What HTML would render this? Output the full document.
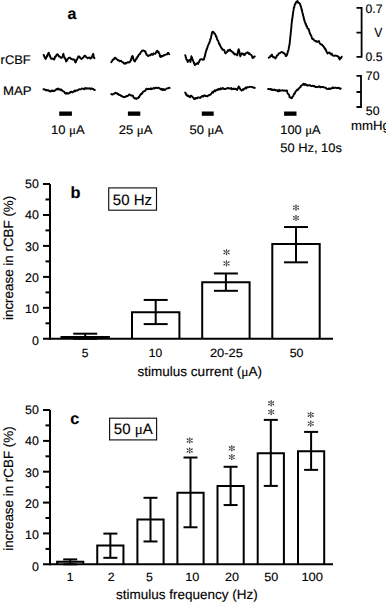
<!DOCTYPE html>
<html><head><meta charset="utf-8"><style>
html,body{margin:0;padding:0;background:#fff;width:386px;height:602px;overflow:hidden}
svg{display:block;font-family:"Liberation Sans", sans-serif;fill:#000}
text{stroke:#000;stroke-width:0.15px;text-rendering:geometricPrecision}
</style></head><body>
<svg width="386" height="602" viewBox="0 0 386 602">
<polyline points="43.60,54.90 43.90,55.24 44.20,56.43 44.50,57.10 44.87,57.50 45.23,58.46 45.60,58.90 45.97,58.49 46.33,57.05 46.70,57.10 46.98,55.72 47.25,56.31 47.52,54.79 47.80,54.50 48.10,53.50 48.40,54.04 48.70,52.70 48.93,53.31 49.15,54.50 49.38,54.61 49.60,55.30 49.88,56.13 50.15,56.03 50.43,57.38 50.70,57.80 51.25,58.90 51.80,58.90 52.90,58.50 53.45,59.08 54.00,59.60 54.35,59.24 54.70,58.41 55.05,56.77 55.40,56.70 55.77,56.54 56.15,55.74 56.52,54.75 56.90,54.50 57.60,54.20 58.30,55.30 58.80,56.31 59.30,56.19 59.80,56.70 60.50,57.58 61.20,57.80 61.75,57.82 62.30,56.70 62.57,56.30 62.85,55.88 63.12,54.37 63.40,53.80 63.57,54.98 63.75,55.17 63.92,56.63 64.10,56.70 64.47,58.00 64.83,57.56 65.20,58.90 65.47,58.98 65.75,59.73 66.03,61.47 66.30,61.40 66.67,60.70 67.03,60.39 67.40,59.60 67.87,58.70 68.33,58.41 68.80,57.80 70.00,57.60 70.45,58.08 70.90,58.90 71.65,59.03 72.40,59.60 73.10,59.53 73.80,59.20 74.35,60.08 74.90,60.70 75.25,62.21 75.60,62.50 75.83,61.94 76.07,61.48 76.30,60.00 76.67,59.93 77.03,59.54 77.40,58.20 77.90,57.82 78.40,56.43 78.90,56.30 79.45,57.24 80.00,57.10 80.55,58.50 81.10,58.50 81.80,58.96 82.50,58.20 83.00,57.67 83.50,57.25 84.00,56.30 84.70,55.72 85.40,56.00 85.95,57.05 86.50,57.10 87.05,57.76 87.60,58.20 88.30,57.68 89.00,57.80 89.55,57.50 90.10,58.50 90.65,58.48 91.20,57.40 91.75,57.58 92.30,56.30 92.53,55.06 92.75,55.50 92.97,54.29 93.20,53.80 93.33,54.00 93.45,54.94 93.58,56.38 93.70,56.70 94.10,58.01 94.50,58.20" fill="none" stroke="#000" stroke-width="1.9" stroke-linejoin="round" stroke-linecap="round"/>
<polyline points="43.50,89.30 44.13,89.24 44.77,89.37 45.40,90.30 46.20,90.24 47.00,89.98 47.80,90.60 48.43,90.15 49.07,90.85 49.70,91.20 50.37,91.56 51.03,91.12 51.70,90.40 52.33,91.06 52.97,90.52 53.60,91.20 54.23,90.99 54.87,90.33 55.50,90.40 56.06,89.53 56.62,89.05 57.18,88.83 57.74,89.52 58.30,88.50 58.93,89.26 59.57,89.49 60.20,89.30 60.78,90.13 61.35,89.59 61.92,90.14 62.50,90.80 63.30,91.39 64.10,91.60 64.57,92.42 65.05,93.08 65.53,93.60 66.00,93.50 66.67,92.88 67.33,93.66 68.00,93.50 68.65,93.51 69.30,93.01 69.95,92.27 70.60,92.46 71.25,91.63 71.90,92.00 72.55,92.39 73.20,92.01 73.85,91.27 74.50,90.63 75.15,91.28 75.80,90.40 76.45,90.33 77.10,90.61 77.75,90.37 78.40,89.68 79.05,89.35 79.70,89.30 80.46,89.37 81.22,89.04 81.98,88.55 82.74,88.69 83.50,88.90 84.15,89.30 84.80,88.08 85.45,88.02 86.10,88.82 86.75,88.24 87.40,88.50 88.18,88.55 88.96,88.46 89.74,88.26 90.52,89.25 91.30,88.50 92.00,88.34 92.70,88.97 93.40,88.95 94.10,89.90 94.80,90.00" fill="none" stroke="#000" stroke-width="1.9" stroke-linejoin="round" stroke-linecap="round"/>
<polyline points="111.30,62.20 111.62,61.76 111.95,61.31 112.27,60.77 112.60,59.70 113.10,59.94 113.60,59.21 114.10,59.06 114.60,58.00 115.45,57.74 116.30,58.90 117.00,59.25 117.70,60.37 118.40,60.10 119.07,60.59 119.73,61.23 120.40,60.90 121.10,60.75 121.80,61.72 122.50,62.20 123.03,62.22 123.55,63.07 124.07,63.51 124.60,63.80 125.40,62.87 126.20,63.40 126.90,62.58 127.60,62.27 128.30,62.20 129.00,62.52 129.70,62.00 130.40,61.30 130.66,60.13 130.93,60.42 131.19,58.77 131.45,58.83 131.71,57.43 131.97,56.58 132.24,57.22 132.50,56.00 132.77,56.36 133.03,57.17 133.30,58.40 133.60,59.85 133.90,60.41 134.20,60.26 134.50,61.30 134.93,61.46 135.37,60.29 135.80,59.70 136.12,59.39 136.44,58.10 136.76,58.62 137.08,57.67 137.40,56.80 137.80,56.90 138.20,56.19 138.60,55.00 139.20,54.35 139.80,54.30 140.23,53.44 140.65,52.50 141.07,51.82 141.50,51.70 142.10,50.61 142.70,50.54 143.30,50.40 144.15,51.00 145.00,51.30 145.30,51.14 145.60,52.73 145.90,52.81 146.20,53.35 146.50,54.69 146.80,54.80 147.45,55.42 148.10,56.10 148.70,55.52 149.30,55.47 149.90,55.20 150.63,55.21 151.37,53.94 152.10,54.30 152.83,54.88 153.57,53.32 154.30,53.90 154.90,53.84 155.50,53.55 156.10,52.60 156.53,51.28 156.97,51.83 157.40,50.80 157.82,51.27 158.25,52.27 158.68,52.09 159.10,53.50 159.38,53.52 159.66,54.42 159.94,56.28 160.22,55.84 160.50,57.00 161.15,56.73 161.80,55.70 162.45,56.22 163.10,56.11 163.75,55.09 164.40,55.20 165.13,54.68 165.87,54.64 166.60,54.30 167.20,54.28 167.80,52.85 168.40,53.00 168.85,54.02 169.30,54.30" fill="none" stroke="#000" stroke-width="1.9" stroke-linejoin="round" stroke-linecap="round"/>
<polyline points="111.30,94.10 112.00,94.47 112.70,94.43 113.40,93.85 114.10,93.80 114.77,93.27 115.45,92.70 116.12,93.52 116.80,93.10 117.34,93.44 117.88,94.25 118.42,94.05 118.96,95.03 119.50,95.00 120.27,94.96 121.03,96.05 121.80,95.90 122.53,96.68 123.27,96.64 124.00,97.20 124.70,97.03 125.40,97.02 126.10,96.06 126.80,96.30 127.47,95.93 128.15,95.86 128.82,94.60 129.50,94.50 130.18,95.18 130.85,95.23 131.52,95.69 132.20,95.40 132.65,95.73 133.10,95.94 133.55,97.58 134.00,97.70 134.57,98.48 135.15,98.27 135.73,98.07 136.30,99.00 137.03,98.11 137.77,98.34 138.50,97.70 138.90,96.72 139.30,97.04 139.70,95.70 140.14,95.32 140.59,94.22 141.03,94.39 141.47,93.43 141.91,93.78 142.36,93.23 142.80,92.10 143.32,91.69 143.83,91.45 144.35,91.10 144.87,90.82 145.38,90.65 145.90,89.50 146.62,88.69 147.34,89.09 148.06,89.35 148.78,88.81 149.50,89.00 150.22,89.03 150.94,88.18 151.66,89.27 152.38,88.64 153.10,88.50 153.84,87.83 154.58,88.54 155.32,87.92 156.06,87.64 156.80,88.00 157.58,88.10 158.35,87.71 159.12,87.94 159.90,88.50 160.52,89.35 161.14,89.40 161.76,88.67 162.38,90.12 163.00,90.00 163.62,89.08 164.24,89.35 164.86,90.01 165.48,89.38 166.10,89.00 166.82,88.51 167.54,88.42 168.26,88.23 168.98,87.64 169.70,88.00" fill="none" stroke="#000" stroke-width="1.9" stroke-linejoin="round" stroke-linecap="round"/>
<polyline points="185.20,55.20 185.40,55.68 185.60,56.16 185.80,57.65 186.00,57.52 186.20,58.90 186.52,59.57 186.84,59.94 187.16,60.10 187.48,61.39 187.80,62.00 188.30,60.61 188.80,60.50 189.30,59.90 189.67,59.95 190.03,60.69 190.40,62.00 190.53,61.17 190.65,61.07 190.78,59.30 190.90,58.73 191.03,58.63 191.15,58.40 191.28,57.13 191.40,56.30 191.63,56.80 191.86,58.33 192.09,57.59 192.31,59.47 192.54,59.27 192.77,59.71 193.00,60.90 193.29,60.93 193.57,61.81 193.86,63.17 194.14,62.82 194.43,64.02 194.71,64.71 195.00,65.10 195.53,64.38 196.07,64.10 196.60,63.50 197.35,63.09 198.10,64.00 198.40,62.68 198.70,62.24 199.00,62.30 199.30,61.26 199.60,60.44 199.90,60.19 200.20,59.40 200.90,59.33 201.60,59.10 202.30,59.40 203.10,59.84 203.90,59.40 204.07,59.04 204.25,57.71 204.42,57.55 204.59,56.82 204.76,56.69 204.94,55.82 205.11,54.50 205.28,54.88 205.45,52.94 205.63,52.73 205.80,52.20 206.00,51.97 206.20,50.44 206.40,50.32 206.60,49.03 206.80,49.35 207.00,48.88 207.20,47.97 207.40,47.80 207.60,46.34 207.80,46.00 208.06,45.68 208.31,44.92 208.57,44.29 208.82,43.49 209.08,43.45 209.33,43.00 209.59,41.68 209.84,41.36 210.10,40.50 210.28,39.19 210.45,39.49 210.63,38.76 210.81,38.62 210.98,37.71 211.16,36.25 211.34,35.75 211.52,35.52 211.69,33.90 211.87,33.90 212.05,32.81 212.22,32.08 212.40,32.00 213.20,31.74 214.00,32.80 214.38,33.78 214.75,33.39 215.12,34.15 215.50,35.10 215.77,35.54 216.03,36.86 216.30,36.27 216.57,37.42 216.83,38.17 217.10,39.28 217.37,39.78 217.63,40.45 217.90,40.50 218.16,40.78 218.41,41.60 218.67,42.12 218.92,43.52 219.18,44.24 219.43,43.64 219.69,44.29 219.94,44.99 220.20,46.00 220.58,46.25 220.97,47.28 221.35,48.08 221.73,48.24 222.12,48.51 222.50,49.90 223.30,49.78 224.10,49.90 224.40,50.40 224.70,51.40 225.00,52.68 225.30,52.99 225.60,53.40 226.10,52.82 226.60,52.38 227.10,51.86 227.60,51.00 228.20,49.96 228.80,50.85 229.40,50.29 230.00,49.50 230.50,50.64 231.00,51.10 231.50,51.06 232.00,51.80 232.52,52.17 233.04,52.25 233.56,53.56 234.08,53.22 234.60,54.40 235.25,54.00 235.90,54.46 236.55,54.64 237.20,55.40 237.37,54.47 237.53,53.35 237.70,52.58 237.87,52.12 238.03,51.36 238.20,51.06 238.37,49.87 238.53,50.45 238.70,49.20 238.85,50.03 238.99,49.98 239.14,50.79 239.28,51.59 239.43,52.27 239.57,52.56 239.72,54.31 239.86,55.18 240.01,55.04 240.15,55.72 240.30,56.40 240.60,55.16 240.90,54.56 241.20,54.30 241.50,53.57 241.80,53.30 242.33,54.19 242.85,53.59 243.38,53.78 243.90,54.90 244.52,55.16 245.14,54.10 245.76,53.11 246.38,53.28 247.00,52.80 247.65,52.22 248.30,53.09 248.95,53.89 249.60,53.30 250.13,54.38 250.67,54.66 251.20,54.90 251.50,55.16 251.80,55.94 252.10,56.26 252.40,57.79 252.70,58.00 253.22,57.65 253.75,57.62 254.28,56.54 254.80,56.40" fill="none" stroke="#000" stroke-width="1.9" stroke-linejoin="round" stroke-linecap="round"/>
<polyline points="185.20,92.60 185.57,92.84 185.95,94.59 186.32,93.99 186.70,95.20 187.35,95.91 188.00,95.38 188.65,96.02 189.30,96.80 190.00,97.18 190.70,95.63 191.40,95.70 191.83,96.43 192.27,96.67 192.70,97.18 193.13,97.76 193.57,97.82 194.00,98.80 194.78,99.17 195.55,97.93 196.32,98.03 197.10,98.30 197.82,97.38 198.54,97.55 199.26,97.56 199.98,98.10 200.70,97.30 201.32,96.80 201.94,96.08 202.56,95.98 203.18,96.76 203.80,95.70 204.54,95.14 205.28,96.08 206.02,95.82 206.76,96.34 207.50,96.20 208.10,95.54 208.70,95.65 209.30,94.95 209.90,94.76 210.50,94.72 211.10,93.70 211.62,93.39 212.13,92.30 212.65,91.75 213.17,92.64 213.68,91.52 214.20,91.10 214.82,90.32 215.44,91.13 216.06,90.26 216.68,90.16 217.30,89.50 217.99,89.93 218.67,88.89 219.36,88.86 220.04,89.50 220.73,88.24 221.41,89.04 222.10,88.50 222.80,87.90 223.50,88.79 224.20,88.80 224.90,89.17 225.60,89.02 226.30,88.50 226.98,88.51 227.67,88.05 228.35,87.98 229.03,88.54 229.72,88.51 230.40,88.50 231.10,87.94 231.80,89.27 232.50,88.76 233.20,89.14 233.90,88.50 234.60,89.00 235.25,88.87 235.90,88.77 236.55,89.51 237.20,90.00 237.50,88.93 237.80,88.45 238.10,87.66 238.40,87.62 238.70,86.40 239.02,87.61 239.34,87.15 239.66,88.10 239.98,88.38 240.30,89.50 241.00,89.91 241.70,90.55 242.40,90.00 243.03,89.18 243.65,89.65 244.28,88.58 244.90,88.50 245.52,87.55 246.14,88.46 246.76,87.60 247.38,87.13 248.00,87.40 248.80,87.18 249.60,86.75 250.40,86.89 251.20,86.90 251.92,87.04 252.64,87.22 253.36,87.69 254.08,87.46 254.80,88.00" fill="none" stroke="#000" stroke-width="1.9" stroke-linejoin="round" stroke-linecap="round"/>
<polyline points="268.70,57.80 269.35,57.39 270.00,57.10 270.43,56.33 270.85,55.41 271.27,55.92 271.70,54.80 272.03,54.63 272.37,55.94 272.70,56.50 273.40,57.40 274.10,57.10 274.75,57.17 275.40,58.50 275.73,58.01 276.07,57.54 276.40,56.80 276.87,55.54 277.33,55.49 277.80,55.10 278.23,54.74 278.67,53.69 279.10,53.10 279.80,53.29 280.50,52.80 281.35,51.94 282.20,52.10 282.85,52.36 283.50,53.40 284.20,53.17 284.90,54.10 285.33,54.78 285.77,56.07 286.20,56.10 286.53,55.57 286.87,55.18 287.20,54.10 287.40,53.25 287.60,53.13 287.80,51.49 288.00,51.10 288.20,51.00 288.40,50.41 288.60,49.40 288.73,48.61 288.85,47.43 288.98,47.03 289.10,46.26 289.23,45.70 289.35,45.81 289.48,44.22 289.60,44.00 289.67,43.88 289.75,43.17 289.82,41.23 289.89,41.02 289.96,40.49 290.04,39.09 290.11,38.99 290.18,39.01 290.25,37.12 290.33,37.15 290.40,36.30 290.48,35.03 290.56,35.02 290.63,34.79 290.71,33.05 290.79,32.06 290.87,31.48 290.94,31.46 291.02,29.98 291.10,30.00 291.16,28.67 291.22,28.58 291.28,28.50 291.34,27.04 291.40,26.30 291.46,25.95 291.52,24.42 291.58,24.44 291.64,23.12 291.70,22.90 291.79,22.39 291.88,22.24 291.97,20.21 292.06,20.29 292.15,19.70 292.25,18.34 292.34,17.84 292.43,18.26 292.52,17.59 292.61,15.60 292.70,15.50 292.80,15.14 292.90,14.84 293.00,13.10 293.10,12.99 293.20,11.46 293.30,11.28 293.40,11.07 293.50,10.28 293.60,9.88 293.70,8.80 293.88,7.50 294.07,7.20 294.25,7.30 294.43,6.19 294.62,5.31 294.80,4.70 295.12,3.88 295.45,4.08 295.78,2.79 296.10,2.00 297.10,1.30 297.57,1.04 298.03,2.68 298.50,2.70 299.15,2.94 299.80,3.70 300.05,4.35 300.30,4.77 300.55,5.87 300.80,6.70 301.00,7.11 301.20,7.43 301.40,8.91 301.60,8.79 301.80,10.48 302.00,10.02 302.20,11.40 302.36,12.50 302.52,13.21 302.69,13.42 302.85,14.41 303.01,14.40 303.18,15.81 303.34,16.01 303.50,16.80 303.68,17.07 303.85,18.85 304.02,18.68 304.20,19.31 304.38,20.71 304.55,20.65 304.72,21.78 304.90,22.20 305.17,22.32 305.43,23.95 305.70,23.69 305.97,23.99 306.23,26.00 306.50,25.90 306.93,26.08 307.35,27.92 307.77,28.65 308.20,28.60 308.44,29.40 308.69,29.16 308.93,29.87 309.18,30.74 309.42,31.66 309.67,32.63 309.91,33.81 310.16,33.54 310.40,34.40 310.69,34.52 310.97,35.81 311.26,35.83 311.54,36.41 311.83,37.77 312.11,38.64 312.40,39.00 313.05,38.75 313.70,39.73 314.35,40.51 315.00,40.60 315.65,41.25 316.30,40.92 316.95,41.93 317.60,41.60 318.70,41.10 319.10,41.22 319.50,42.66 319.90,43.37 320.30,44.15 320.70,44.20 321.22,44.62 321.73,44.47 322.25,44.82 322.77,45.98 323.28,45.88 323.80,46.80 324.15,47.59 324.50,47.38 324.85,49.02 325.20,48.78 325.55,49.07 325.90,50.40 326.22,50.53 326.54,51.58 326.86,52.35 327.18,52.71 327.50,53.50 328.17,52.68 328.83,52.81 329.50,52.50 330.06,53.63 330.62,53.47 331.18,54.54 331.74,53.63 332.30,54.80 333.10,55.77 333.90,55.85 334.70,55.50 335.47,55.70 336.23,55.80 337.00,55.90 337.75,56.36 338.50,56.70 338.80,57.99 339.10,57.40 339.40,58.94 339.70,59.40 340.10,58.92 340.50,58.02 340.90,58.12 341.30,57.57 341.70,56.70" fill="none" stroke="#000" stroke-width="1.9" stroke-linejoin="round" stroke-linecap="round"/>
<polyline points="268.10,89.00 268.80,89.19 269.50,89.06 270.20,89.37 270.90,88.89 271.60,89.89 272.30,89.50 272.98,90.15 273.67,90.06 274.35,89.49 275.03,90.20 275.72,90.07 276.40,90.50 277.08,90.12 277.77,91.18 278.45,91.24 279.13,89.82 279.82,91.04 280.50,90.50 281.20,90.65 281.90,90.32 282.60,90.18 283.30,90.76 284.00,90.44 284.70,90.50 285.40,90.78 286.10,90.74 286.80,90.50 287.05,90.57 287.30,92.14 287.55,93.07 287.80,93.67 288.05,93.75 288.30,94.20 288.62,94.14 288.94,94.70 289.26,95.51 289.58,97.34 289.90,97.30 290.65,97.50 291.40,98.30 291.80,97.57 292.20,97.85 292.60,96.45 293.00,96.20 293.35,95.67 293.70,94.90 294.05,93.75 294.40,93.93 294.75,93.72 295.10,92.60 295.54,91.57 295.99,91.16 296.43,90.93 296.87,89.85 297.31,90.02 297.76,89.99 298.20,89.00 298.80,88.64 299.40,87.85 300.00,87.20 300.48,87.25 300.97,85.71 301.45,85.85 301.93,85.08 302.42,84.94 302.90,84.30 303.58,83.82 304.27,84.91 304.95,83.99 305.63,84.20 306.32,85.26 307.00,84.90 307.67,85.74 308.34,85.14 309.01,85.29 309.69,85.20 310.36,85.42 311.03,86.10 311.70,86.10 312.36,85.70 313.01,85.70 313.67,86.29 314.33,85.94 314.99,86.75 315.64,87.10 316.30,86.70 316.97,87.19 317.64,86.81 318.31,86.69 318.99,86.89 319.66,86.31 320.33,87.45 321.00,87.20 321.68,87.01 322.37,87.06 323.05,86.77 323.73,87.39 324.42,87.66 325.10,87.60 325.83,87.79 326.55,88.85 327.27,88.91 328.00,89.00 328.70,88.43 329.40,88.68 330.10,89.08 330.80,88.31 331.50,88.10 332.16,88.21 332.81,87.36 333.47,87.96 334.13,87.87 334.79,87.74 335.44,87.72 336.10,87.80 336.77,88.01 337.44,88.03 338.11,88.04 338.79,87.64 339.46,88.14 340.13,89.02 340.80,88.40" fill="none" stroke="#000" stroke-width="1.9" stroke-linejoin="round" stroke-linecap="round"/>
<text x="72" y="19.2" font-size="16" text-anchor="middle" font-weight="bold" >a</text>
<text x="0" y="0" font-size="12.5" text-anchor="start" font-weight="normal" transform="translate(0.6,64) scale(1.03,1)">rCBF</text>
<text x="0" y="0" font-size="12.5" text-anchor="start" font-weight="normal" transform="translate(3,94.5) scale(1.055,1)">MAP</text>
<rect x="59.2" y="111.5" width="12.7" height="4.3" fill="#000"/>
<rect x="127.9" y="111.5" width="12.4" height="4.3" fill="#000"/>
<rect x="201.8" y="111.5" width="11.9" height="4.3" fill="#000"/>
<rect x="284.1" y="111.5" width="12.4" height="4.3" fill="#000"/>
<text x="0" y="0" font-size="12.5" text-anchor="start" font-weight="normal" transform="translate(51.0,134) scale(1.04,1)">10 <tspan font-family="Liberation Serif">μ</tspan>A</text>
<text x="0" y="0" font-size="12.5" text-anchor="start" font-weight="normal" transform="translate(118.7,134) scale(1.04,1)">25 <tspan font-family="Liberation Serif">μ</tspan>A</text>
<text x="0" y="0" font-size="12.5" text-anchor="start" font-weight="normal" transform="translate(189.4,134) scale(1.04,1)">50 <tspan font-family="Liberation Serif">μ</tspan>A</text>
<text x="0" y="0" font-size="12.5" text-anchor="start" font-weight="normal" transform="translate(280.3,134) scale(1.02,1)">100 <tspan font-family="Liberation Serif">μ</tspan>A</text>
<text x="0" y="0" font-size="12.5" text-anchor="start" font-weight="normal" transform="translate(280.3,152.4) scale(1.03,1)">50 Hz, 10s</text>
<path d="M356.5,7.9 H361.6 V56.8 H356.5 M356.5,32.7 H361.6" fill="none" stroke="#000" stroke-width="1.8"/>
<path d="M356.5,75.8 H361 V107 H356.5 M356.5,92 H361" fill="none" stroke="#000" stroke-width="1.8"/>
<text x="365.4" y="13.3" font-size="12.3" text-anchor="start" font-weight="normal" >0.7</text>
<text x="0" y="0" font-size="13.5" text-anchor="start" font-weight="normal" transform="translate(374.3,36.6) scale(0.9,1)">V</text>
<text x="365.4" y="60.6" font-size="12.3" text-anchor="start" font-weight="normal" >0.5</text>
<text x="365.8" y="80.1" font-size="12.3" text-anchor="start" font-weight="normal" >70</text>
<text x="365.8" y="114.8" font-size="12.3" text-anchor="start" font-weight="normal" >50</text>
<text x="351" y="130.2" font-size="13.2" text-anchor="start" font-weight="normal" >mmHg</text>
<text x="75.6" y="197.6" font-size="16.3" text-anchor="middle" font-weight="bold" >b</text>
<rect x="108.7" y="187.9" width="47.8" height="22.3" fill="none" stroke="#111" stroke-width="1.15"/>
<text x="132.4" y="204.7" font-size="15" text-anchor="middle" font-weight="normal" >50 Hz</text>
<line x1="50" y1="184.0" x2="50" y2="339.8" stroke="#000" stroke-width="2"/>
<line x1="43" y1="338.8" x2="333" y2="338.8" stroke="#000" stroke-width="2"/>
<line x1="45.5" y1="323.3" x2="50" y2="323.3" stroke="#000" stroke-width="2"/>
<line x1="43" y1="307.8" x2="50" y2="307.8" stroke="#000" stroke-width="2"/>
<line x1="45.5" y1="292.4" x2="50" y2="292.4" stroke="#000" stroke-width="2"/>
<line x1="43" y1="276.9" x2="50" y2="276.9" stroke="#000" stroke-width="2"/>
<line x1="45.5" y1="261.4" x2="50" y2="261.4" stroke="#000" stroke-width="2"/>
<line x1="43" y1="245.9" x2="50" y2="245.9" stroke="#000" stroke-width="2"/>
<line x1="45.5" y1="230.4" x2="50" y2="230.4" stroke="#000" stroke-width="2"/>
<line x1="43" y1="215.0" x2="50" y2="215.0" stroke="#000" stroke-width="2"/>
<line x1="45.5" y1="199.5" x2="50" y2="199.5" stroke="#000" stroke-width="2"/>
<line x1="43" y1="184.0" x2="50" y2="184.0" stroke="#000" stroke-width="2"/>
<text x="38.8" y="188.14999999999998" font-size="12.4" text-anchor="end" font-weight="normal" >50</text>
<text x="38.8" y="219.45" font-size="12.4" text-anchor="end" font-weight="normal" >40</text>
<text x="38.8" y="250.74999999999997" font-size="12.4" text-anchor="end" font-weight="normal" >30</text>
<text x="38.8" y="282.05" font-size="12.4" text-anchor="end" font-weight="normal" >20</text>
<text x="38.8" y="313.34999999999997" font-size="12.4" text-anchor="end" font-weight="normal" >10</text>
<text x="38.8" y="344.65" font-size="12.4" text-anchor="end" font-weight="normal" >0</text>
<path d="M61.5,338.8 V337.0972 H108.9 V338.8" fill="none" stroke="#000" stroke-width="2"/>
<path d="M132.0,338.8 V312.1744 H179.39999999999998 V338.8" fill="none" stroke="#000" stroke-width="2"/>
<path d="M202.20000000000002,338.8 V282.298 H249.6 V338.8" fill="none" stroke="#000" stroke-width="2"/>
<path d="M272.3,338.8 V244.06240000000003 H319.7 V338.8" fill="none" stroke="#000" stroke-width="2"/>
<line x1="85.2" y1="333.6916" x2="85.2" y2="338.8" stroke="#000" stroke-width="2"/><line x1="73.2" y1="333.6916" x2="97.2" y2="333.6916" stroke="#000" stroke-width="2"/><line x1="73.2" y1="338.8" x2="97.2" y2="338.8" stroke="#000" stroke-width="2"/>
<line x1="155.7" y1="299.9452" x2="155.7" y2="324.094" stroke="#000" stroke-width="2"/><line x1="143.7" y1="299.9452" x2="167.7" y2="299.9452" stroke="#000" stroke-width="2"/><line x1="143.7" y1="324.094" x2="167.7" y2="324.094" stroke="#000" stroke-width="2"/>
<line x1="225.9" y1="273.4744" x2="225.9" y2="290.812" stroke="#000" stroke-width="2"/><line x1="213.9" y1="273.4744" x2="237.9" y2="273.4744" stroke="#000" stroke-width="2"/><line x1="213.9" y1="290.812" x2="237.9" y2="290.812" stroke="#000" stroke-width="2"/>
<line x1="296" y1="227.0344" x2="296" y2="262.3288" stroke="#000" stroke-width="2"/><line x1="284" y1="227.0344" x2="308" y2="227.0344" stroke="#000" stroke-width="2"/><line x1="284" y1="262.3288" x2="308" y2="262.3288" stroke="#000" stroke-width="2"/>
<line x1="226.50" y1="249.50" x2="226.50" y2="254.90" stroke="#666" stroke-width="0.9" stroke-linecap="round"/><circle cx="226.50" cy="254.31" r="0.72" fill="#333"/><circle cx="226.50" cy="250.09" r="0.72" fill="#333"/><line x1="223.73" y1="250.60" x2="229.27" y2="253.80" stroke="#666" stroke-width="0.9" stroke-linecap="round"/><circle cx="228.66" cy="253.45" r="0.72" fill="#333"/><circle cx="224.34" cy="250.95" r="0.72" fill="#333"/><line x1="223.73" y1="253.80" x2="229.27" y2="250.60" stroke="#666" stroke-width="0.9" stroke-linecap="round"/><circle cx="228.66" cy="250.95" r="0.72" fill="#333"/><circle cx="224.34" cy="253.45" r="0.72" fill="#333"/>
<line x1="226.50" y1="260.70" x2="226.50" y2="266.10" stroke="#666" stroke-width="0.9" stroke-linecap="round"/><circle cx="226.50" cy="265.51" r="0.72" fill="#333"/><circle cx="226.50" cy="261.29" r="0.72" fill="#333"/><line x1="223.73" y1="261.80" x2="229.27" y2="265.00" stroke="#666" stroke-width="0.9" stroke-linecap="round"/><circle cx="228.66" cy="264.65" r="0.72" fill="#333"/><circle cx="224.34" cy="262.15" r="0.72" fill="#333"/><line x1="223.73" y1="265.00" x2="229.27" y2="261.80" stroke="#666" stroke-width="0.9" stroke-linecap="round"/><circle cx="228.66" cy="262.15" r="0.72" fill="#333"/><circle cx="224.34" cy="264.65" r="0.72" fill="#333"/>
<line x1="296.00" y1="204.90" x2="296.00" y2="210.30" stroke="#666" stroke-width="0.9" stroke-linecap="round"/><circle cx="296.00" cy="209.71" r="0.72" fill="#333"/><circle cx="296.00" cy="205.49" r="0.72" fill="#333"/><line x1="293.23" y1="206.00" x2="298.77" y2="209.20" stroke="#666" stroke-width="0.9" stroke-linecap="round"/><circle cx="298.16" cy="208.85" r="0.72" fill="#333"/><circle cx="293.84" cy="206.35" r="0.72" fill="#333"/><line x1="293.23" y1="209.20" x2="298.77" y2="206.00" stroke="#666" stroke-width="0.9" stroke-linecap="round"/><circle cx="298.16" cy="206.35" r="0.72" fill="#333"/><circle cx="293.84" cy="208.85" r="0.72" fill="#333"/>
<line x1="296.00" y1="215.30" x2="296.00" y2="220.70" stroke="#666" stroke-width="0.9" stroke-linecap="round"/><circle cx="296.00" cy="220.11" r="0.72" fill="#333"/><circle cx="296.00" cy="215.89" r="0.72" fill="#333"/><line x1="293.23" y1="216.40" x2="298.77" y2="219.60" stroke="#666" stroke-width="0.9" stroke-linecap="round"/><circle cx="298.16" cy="219.25" r="0.72" fill="#333"/><circle cx="293.84" cy="216.75" r="0.72" fill="#333"/><line x1="293.23" y1="219.60" x2="298.77" y2="216.40" stroke="#666" stroke-width="0.9" stroke-linecap="round"/><circle cx="298.16" cy="216.75" r="0.72" fill="#333"/><circle cx="293.84" cy="219.25" r="0.72" fill="#333"/>
<text x="0" y="0" font-size="12" text-anchor="middle" font-weight="normal" transform="translate(85.2,356.8) scale(1.0,1)">5</text>
<text x="0" y="0" font-size="12" text-anchor="middle" font-weight="normal" transform="translate(155.5,356.8) scale(1.0,1)">10</text>
<text x="0" y="0" font-size="12" text-anchor="middle" font-weight="normal" transform="translate(226.4,356.8) scale(1.075,1)">20-25</text>
<text x="0" y="0" font-size="12" text-anchor="middle" font-weight="normal" transform="translate(296.6,356.8) scale(1.03,1)">50</text>
<text x="199.75" y="376" font-size="13.5" text-anchor="middle" font-weight="normal" >stimulus current (<tspan font-family="Liberation Serif">μ</tspan>A)</text>
<text x="0" y="0" font-size="13.4" text-anchor="middle" font-weight="normal" transform="translate(13.3,257.9) rotate(-90)">increase in rCBF (%)</text>
<text x="74.8" y="424.2" font-size="16.3" text-anchor="middle" font-weight="bold" >c</text>
<rect x="109.6" y="418.2" width="47" height="21.7" fill="none" stroke="#111" stroke-width="1.15"/>
<text x="133.3" y="434.4" font-size="15" text-anchor="middle" font-weight="normal" >50 <tspan font-family="Liberation Serif">μ</tspan>A</text>
<line x1="50" y1="410.0" x2="50" y2="565.3" stroke="#000" stroke-width="2"/>
<line x1="43" y1="564.3" x2="333" y2="564.3" stroke="#000" stroke-width="2"/>
<line x1="45.5" y1="548.9" x2="50" y2="548.9" stroke="#000" stroke-width="2"/>
<line x1="43" y1="533.4" x2="50" y2="533.4" stroke="#000" stroke-width="2"/>
<line x1="45.5" y1="518.0" x2="50" y2="518.0" stroke="#000" stroke-width="2"/>
<line x1="43" y1="502.6" x2="50" y2="502.6" stroke="#000" stroke-width="2"/>
<line x1="45.5" y1="487.1" x2="50" y2="487.1" stroke="#000" stroke-width="2"/>
<line x1="43" y1="471.7" x2="50" y2="471.7" stroke="#000" stroke-width="2"/>
<line x1="45.5" y1="456.3" x2="50" y2="456.3" stroke="#000" stroke-width="2"/>
<line x1="43" y1="440.9" x2="50" y2="440.9" stroke="#000" stroke-width="2"/>
<line x1="45.5" y1="425.4" x2="50" y2="425.4" stroke="#000" stroke-width="2"/>
<line x1="43" y1="410.0" x2="50" y2="410.0" stroke="#000" stroke-width="2"/>
<text x="38.8" y="414.05" font-size="12.4" text-anchor="end" font-weight="normal" >50</text>
<text x="38.8" y="445.35" font-size="12.4" text-anchor="end" font-weight="normal" >40</text>
<text x="38.8" y="476.65000000000003" font-size="12.4" text-anchor="end" font-weight="normal" >30</text>
<text x="38.8" y="507.95" font-size="12.4" text-anchor="end" font-weight="normal" >20</text>
<text x="38.8" y="539.2500000000001" font-size="12.4" text-anchor="end" font-weight="normal" >10</text>
<text x="38.8" y="570.5500000000001" font-size="12.4" text-anchor="end" font-weight="normal" >0</text>
<path d="M57.1,564.3 V561.73862 H83.3 V564.3" fill="none" stroke="#000" stroke-width="2"/>
<path d="M97.25,564.3 V545.4753999999999 H123.44999999999999 V564.3" fill="none" stroke="#000" stroke-width="2"/>
<path d="M137.4,564.3 V519.553 H163.6 V564.3" fill="none" stroke="#000" stroke-width="2"/>
<path d="M177.4,564.3 V492.7048 H203.6 V564.3" fill="none" stroke="#000" stroke-width="2"/>
<path d="M217.5,564.3 V486.06989999999996 H243.7 V564.3" fill="none" stroke="#000" stroke-width="2"/>
<path d="M257.7,564.3 V453.20399999999995 H283.90000000000003 V564.3" fill="none" stroke="#000" stroke-width="2"/>
<path d="M298.0,564.3 V451.19809999999995 H324.20000000000005 V564.3" fill="none" stroke="#000" stroke-width="2"/>
<line x1="70.2" y1="559.3932599999999" x2="70.2" y2="564.3" stroke="#000" stroke-width="2"/><line x1="63.2" y1="559.3932599999999" x2="77.2" y2="559.3932599999999" stroke="#000" stroke-width="2"/><line x1="63.2" y1="564.3" x2="77.2" y2="564.3" stroke="#000" stroke-width="2"/>
<line x1="110.35" y1="533.5943" x2="110.35" y2="557.8194" stroke="#000" stroke-width="2"/><line x1="103.35" y1="533.5943" x2="117.35" y2="533.5943" stroke="#000" stroke-width="2"/><line x1="103.35" y1="557.8194" x2="117.35" y2="557.8194" stroke="#000" stroke-width="2"/>
<line x1="150.5" y1="497.7967" x2="150.5" y2="541.4635999999999" stroke="#000" stroke-width="2"/><line x1="143.5" y1="497.7967" x2="157.5" y2="497.7967" stroke="#000" stroke-width="2"/><line x1="143.5" y1="541.4635999999999" x2="157.5" y2="541.4635999999999" stroke="#000" stroke-width="2"/>
<line x1="190.5" y1="457.52439999999996" x2="190.5" y2="527.2679999999999" stroke="#000" stroke-width="2"/><line x1="183.5" y1="457.52439999999996" x2="197.5" y2="457.52439999999996" stroke="#000" stroke-width="2"/><line x1="183.5" y1="527.2679999999999" x2="197.5" y2="527.2679999999999" stroke="#000" stroke-width="2"/>
<line x1="230.6" y1="466.78239999999994" x2="230.6" y2="505.04879999999997" stroke="#000" stroke-width="2"/><line x1="223.6" y1="466.78239999999994" x2="237.6" y2="466.78239999999994" stroke="#000" stroke-width="2"/><line x1="223.6" y1="505.04879999999997" x2="237.6" y2="505.04879999999997" stroke="#000" stroke-width="2"/>
<line x1="270.8" y1="419.87519999999995" x2="270.8" y2="485.9156" stroke="#000" stroke-width="2"/><line x1="263.8" y1="419.87519999999995" x2="277.8" y2="419.87519999999995" stroke="#000" stroke-width="2"/><line x1="263.8" y1="485.9156" x2="277.8" y2="485.9156" stroke="#000" stroke-width="2"/>
<line x1="311.1" y1="431.91059999999993" x2="311.1" y2="469.86839999999995" stroke="#000" stroke-width="2"/><line x1="304.1" y1="431.91059999999993" x2="318.1" y2="431.91059999999993" stroke="#000" stroke-width="2"/><line x1="304.1" y1="469.86839999999995" x2="318.1" y2="469.86839999999995" stroke="#000" stroke-width="2"/>
<line x1="189.70" y1="437.80" x2="189.70" y2="443.20" stroke="#666" stroke-width="0.9" stroke-linecap="round"/><circle cx="189.70" cy="442.61" r="0.72" fill="#333"/><circle cx="189.70" cy="438.39" r="0.72" fill="#333"/><line x1="186.93" y1="438.90" x2="192.47" y2="442.10" stroke="#666" stroke-width="0.9" stroke-linecap="round"/><circle cx="191.86" cy="441.75" r="0.72" fill="#333"/><circle cx="187.54" cy="439.25" r="0.72" fill="#333"/><line x1="186.93" y1="442.10" x2="192.47" y2="438.90" stroke="#666" stroke-width="0.9" stroke-linecap="round"/><circle cx="191.86" cy="439.25" r="0.72" fill="#333"/><circle cx="187.54" cy="441.75" r="0.72" fill="#333"/>
<line x1="189.70" y1="447.80" x2="189.70" y2="453.20" stroke="#666" stroke-width="0.9" stroke-linecap="round"/><circle cx="189.70" cy="452.61" r="0.72" fill="#333"/><circle cx="189.70" cy="448.39" r="0.72" fill="#333"/><line x1="186.93" y1="448.90" x2="192.47" y2="452.10" stroke="#666" stroke-width="0.9" stroke-linecap="round"/><circle cx="191.86" cy="451.75" r="0.72" fill="#333"/><circle cx="187.54" cy="449.25" r="0.72" fill="#333"/><line x1="186.93" y1="452.10" x2="192.47" y2="448.90" stroke="#666" stroke-width="0.9" stroke-linecap="round"/><circle cx="191.86" cy="449.25" r="0.72" fill="#333"/><circle cx="187.54" cy="451.75" r="0.72" fill="#333"/>
<line x1="231.80" y1="445.60" x2="231.80" y2="451.00" stroke="#666" stroke-width="0.9" stroke-linecap="round"/><circle cx="231.80" cy="450.41" r="0.72" fill="#333"/><circle cx="231.80" cy="446.19" r="0.72" fill="#333"/><line x1="229.03" y1="446.70" x2="234.57" y2="449.90" stroke="#666" stroke-width="0.9" stroke-linecap="round"/><circle cx="233.96" cy="449.55" r="0.72" fill="#333"/><circle cx="229.64" cy="447.05" r="0.72" fill="#333"/><line x1="229.03" y1="449.90" x2="234.57" y2="446.70" stroke="#666" stroke-width="0.9" stroke-linecap="round"/><circle cx="233.96" cy="447.05" r="0.72" fill="#333"/><circle cx="229.64" cy="449.55" r="0.72" fill="#333"/>
<line x1="231.80" y1="454.40" x2="231.80" y2="459.80" stroke="#666" stroke-width="0.9" stroke-linecap="round"/><circle cx="231.80" cy="459.21" r="0.72" fill="#333"/><circle cx="231.80" cy="454.99" r="0.72" fill="#333"/><line x1="229.03" y1="455.50" x2="234.57" y2="458.70" stroke="#666" stroke-width="0.9" stroke-linecap="round"/><circle cx="233.96" cy="458.35" r="0.72" fill="#333"/><circle cx="229.64" cy="455.85" r="0.72" fill="#333"/><line x1="229.03" y1="458.70" x2="234.57" y2="455.50" stroke="#666" stroke-width="0.9" stroke-linecap="round"/><circle cx="233.96" cy="455.85" r="0.72" fill="#333"/><circle cx="229.64" cy="458.35" r="0.72" fill="#333"/>
<line x1="271.20" y1="400.60" x2="271.20" y2="406.00" stroke="#666" stroke-width="0.9" stroke-linecap="round"/><circle cx="271.20" cy="405.41" r="0.72" fill="#333"/><circle cx="271.20" cy="401.19" r="0.72" fill="#333"/><line x1="268.43" y1="401.70" x2="273.97" y2="404.90" stroke="#666" stroke-width="0.9" stroke-linecap="round"/><circle cx="273.36" cy="404.55" r="0.72" fill="#333"/><circle cx="269.04" cy="402.05" r="0.72" fill="#333"/><line x1="268.43" y1="404.90" x2="273.97" y2="401.70" stroke="#666" stroke-width="0.9" stroke-linecap="round"/><circle cx="273.36" cy="402.05" r="0.72" fill="#333"/><circle cx="269.04" cy="404.55" r="0.72" fill="#333"/>
<line x1="271.20" y1="409.40" x2="271.20" y2="414.80" stroke="#666" stroke-width="0.9" stroke-linecap="round"/><circle cx="271.20" cy="414.21" r="0.72" fill="#333"/><circle cx="271.20" cy="409.99" r="0.72" fill="#333"/><line x1="268.43" y1="410.50" x2="273.97" y2="413.70" stroke="#666" stroke-width="0.9" stroke-linecap="round"/><circle cx="273.36" cy="413.35" r="0.72" fill="#333"/><circle cx="269.04" cy="410.85" r="0.72" fill="#333"/><line x1="268.43" y1="413.70" x2="273.97" y2="410.50" stroke="#666" stroke-width="0.9" stroke-linecap="round"/><circle cx="273.36" cy="410.85" r="0.72" fill="#333"/><circle cx="269.04" cy="413.35" r="0.72" fill="#333"/>
<line x1="310.70" y1="412.10" x2="310.70" y2="417.50" stroke="#666" stroke-width="0.9" stroke-linecap="round"/><circle cx="310.70" cy="416.91" r="0.72" fill="#333"/><circle cx="310.70" cy="412.69" r="0.72" fill="#333"/><line x1="307.93" y1="413.20" x2="313.47" y2="416.40" stroke="#666" stroke-width="0.9" stroke-linecap="round"/><circle cx="312.86" cy="416.05" r="0.72" fill="#333"/><circle cx="308.54" cy="413.55" r="0.72" fill="#333"/><line x1="307.93" y1="416.40" x2="313.47" y2="413.20" stroke="#666" stroke-width="0.9" stroke-linecap="round"/><circle cx="312.86" cy="413.55" r="0.72" fill="#333"/><circle cx="308.54" cy="416.05" r="0.72" fill="#333"/>
<line x1="310.70" y1="420.90" x2="310.70" y2="426.30" stroke="#666" stroke-width="0.9" stroke-linecap="round"/><circle cx="310.70" cy="425.71" r="0.72" fill="#333"/><circle cx="310.70" cy="421.49" r="0.72" fill="#333"/><line x1="307.93" y1="422.00" x2="313.47" y2="425.20" stroke="#666" stroke-width="0.9" stroke-linecap="round"/><circle cx="312.86" cy="424.85" r="0.72" fill="#333"/><circle cx="308.54" cy="422.35" r="0.72" fill="#333"/><line x1="307.93" y1="425.20" x2="313.47" y2="422.00" stroke="#666" stroke-width="0.9" stroke-linecap="round"/><circle cx="312.86" cy="422.35" r="0.72" fill="#333"/><circle cx="308.54" cy="424.85" r="0.72" fill="#333"/>
<text x="0" y="0" font-size="12" text-anchor="middle" font-weight="normal" transform="translate(70.05,581) scale(1.0,1)">1</text>
<text x="0" y="0" font-size="12" text-anchor="middle" font-weight="normal" transform="translate(111.25,581) scale(1.03,1)">2</text>
<text x="0" y="0" font-size="12" text-anchor="middle" font-weight="normal" transform="translate(149.4,581) scale(1.03,1)">5</text>
<text x="0" y="0" font-size="12" text-anchor="middle" font-weight="normal" transform="translate(192.2,581) scale(1.06,1)">10</text>
<text x="0" y="0" font-size="12" text-anchor="middle" font-weight="normal" transform="translate(231.95,581) scale(1.05,1)">20</text>
<text x="0" y="0" font-size="12" text-anchor="middle" font-weight="normal" transform="translate(271.35,581) scale(1.05,1)">50</text>
<text x="0" y="0" font-size="12" text-anchor="middle" font-weight="normal" transform="translate(312.2,581) scale(1.08,1)">100</text>
<text x="186.9" y="598.7" font-size="13.5" text-anchor="middle" font-weight="normal" >stimulus frequency (Hz)</text>
<text x="0" y="0" font-size="13.4" text-anchor="middle" font-weight="normal" transform="translate(13.3,488.5) rotate(-90)">increase in rCBF (%)</text>
</svg>
</body></html>
